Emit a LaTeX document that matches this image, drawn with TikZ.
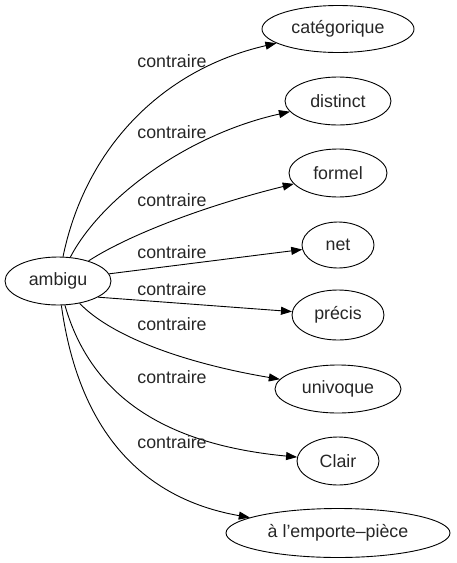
\documentclass[tikz,border=0pt]{standalone}
\usepackage{fontspec}
\setmainfont{Liberation Sans}
\usetikzlibrary{shapes.geometric,arrows.meta}
\begin{document}
\begin{tikzpicture}[x=1pt,y=-1pt,
  font=\fontsize{17.8}{20}\selectfont,
  term/.style={draw=black,ellipse,line width=0.9pt,inner sep=0pt,text=black!85},
  rel/.style={text=black!85,inner sep=0pt},
  link/.style={draw=black,line width=0.9pt,-{Triangle[length=11pt,width=8pt]}}]
\useasboundingbox (0,0) rectangle (456,563);
\node[term,minimum width=106pt,minimum height=48pt] (amb) at (58,281) {ambigu};
\node[term,minimum width=152pt,minimum height=47pt] (cat) at (338,29) {catégorique};
\node[term,minimum width=106pt,minimum height=48pt] (dis) at (338,101) {distinct};
\node[term,minimum width=98pt,minimum height=48pt] (for) at (338,173) {formel};
\node[term,minimum width=72pt,minimum height=46pt] (net) at (338,245) {net};
\node[term,minimum width=92pt,minimum height=50pt] (pre) at (338,315) {précis};
\node[term,minimum width=126pt,minimum height=48pt] (uni) at (338,389) {univoque};
\node[term,minimum width=82pt,minimum height=48pt] (cla) at (338,461) {Clair};
\node[term,minimum width=224pt,minimum height=49pt] (emp) at (338,533) {à l{\char39}emporte–pièce};
\coordinate (c1a) at (85,150);  \coordinate (c1b) at (160,70);
\coordinate (c2a) at (100,200); \coordinate (c2b) at (185,135);
\coordinate (c3a) at (125,237); \coordinate (c3b) at (200,207);
\coordinate (c6a) at (115,340); \coordinate (c6b) at (195,365);
\coordinate (c7a) at (92,400);  \coordinate (c7b) at (170,445);
\coordinate (c8a) at (80,440);  \coordinate (c8b) at (150,500);
\draw[link] (amb) .. controls (c1a) and (c1b) .. (cat);
\draw[link] (amb) .. controls (c2a) and (c2b) .. (dis);
\draw[link] (amb) .. controls (c3a) and (c3b) .. (for);
\draw[link] (amb.8) -- (net);
\draw[link] (amb.-22) -- (pre);
\draw[link] (amb) .. controls (c6a) and (c6b) .. (uni);
\draw[link] (amb) .. controls (c7a) and (c7b) .. (cla);
\draw[link] (amb) .. controls (c8a) and (c8b) .. (emp);
\node[rel] (l1) at (172,61) {contraire};
\node[rel] (l2) at (172,132) {contraire};
\node[rel] (l3) at (172,200) {contraire};
\node[rel] (l4) at (172,252) {contraire};
\node[rel] (l5) at (172,289) {contraire};
\node[rel] (l6) at (172,324) {contraire};
\node[rel] (l7) at (172,377) {contraire};
\node[rel] (l8) at (172,442) {contraire};
\end{tikzpicture}
\end{document}
